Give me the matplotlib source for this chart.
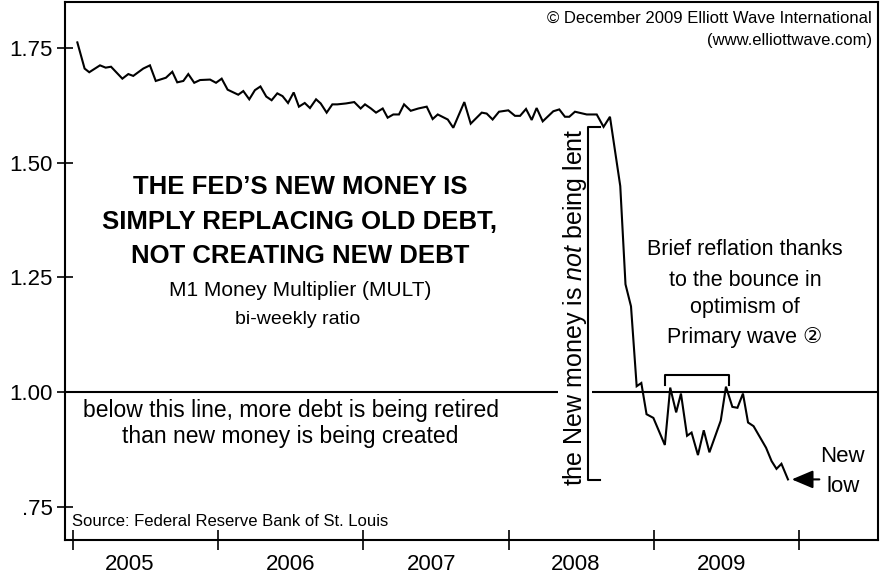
import matplotlib
matplotlib.use("Agg")
import matplotlib.pyplot as plt
import numpy as np

plt.rcParams['font.family'] = ['Liberation Sans', 'DejaVu Sans', 'Noto Sans CJK JP']
plt.rcParams['mathtext.fontset'] = 'custom'
plt.rcParams['mathtext.rm'] = 'Liberation Sans'
plt.rcParams['mathtext.it'] = 'Liberation Sans:italic'

# ---- data (decimal year, M1 money multiplier) ----
dates = [2005.03, 2005.08, 2005.112, 2005.186, 2005.225, 2005.262, 2005.340, 2005.381,
         2005.415, 2005.484, 2005.530, 2005.570, 2005.640, 2005.684, 2005.718, 2005.760,
         2005.794, 2005.835, 2005.875, 2005.944, 2005.985, 2006.024, 2006.065, 2006.138,
         2006.173, 2006.214, 2006.253, 2006.291, 2006.331, 2006.368, 2006.407, 2006.443,
         2006.481, 2006.520, 2006.556, 2006.596, 2006.632, 2006.674, 2006.706, 2006.747,
         2006.786, 2006.820, 2006.880, 2006.937, 2006.981, 2007.011, 2007.052, 2007.087,
         2007.133, 2007.167, 2007.206, 2007.245, 2007.280, 2007.326, 2007.378, 2007.436,
         2007.477, 2007.512, 2007.581, 2007.619, 2007.695, 2007.739, 2007.815, 2007.849,
         2007.890, 2007.934, 2007.998, 2008.044, 2008.079, 2008.120, 2008.159, 2008.193,
         2008.235, 2008.308, 2008.349, 2008.388, 2008.418, 2008.457, 2008.538, 2008.607,
         2008.654, 2008.698, 2008.769, 2008.805, 2008.843, 2008.882, 2008.914, 2008.950,
         2008.997, 2009.076, 2009.113, 2009.154, 2009.187, 2009.229, 2009.260, 2009.304,
         2009.344, 2009.383, 2009.461, 2009.497, 2009.541, 2009.576, 2009.614, 2009.649,
         2009.687, 2009.773, 2009.811, 2009.845, 2009.879, 2009.924]
mult = [1.762, 1.705, 1.697, 1.712, 1.707, 1.709, 1.683, 1.693,
        1.689, 1.705, 1.712, 1.678, 1.685, 1.698, 1.675, 1.678,
        1.693, 1.674, 1.680, 1.681, 1.674, 1.683, 1.659, 1.648,
        1.656, 1.638, 1.658, 1.666, 1.644, 1.636, 1.651, 1.645,
        1.630, 1.653, 1.622, 1.630, 1.619, 1.638, 1.629, 1.609,
        1.627, 1.627, 1.629, 1.632, 1.618, 1.627, 1.618, 1.609,
        1.618, 1.598, 1.605, 1.605, 1.627, 1.613, 1.618, 1.622,
        1.595, 1.605, 1.594, 1.576, 1.632, 1.585, 1.609, 1.607,
        1.594, 1.611, 1.614, 1.602, 1.602, 1.617, 1.593, 1.619,
        1.590, 1.612, 1.616, 1.600, 1.600, 1.611, 1.605, 1.605,
        1.578, 1.600, 1.449, 1.235, 1.187, 1.013, 1.020, 0.952,
        0.944, 0.885, 1.010, 0.956, 0.997, 0.905, 0.912, 0.863,
        0.917, 0.869, 0.938, 1.012, 0.968, 0.966, 0.997, 0.934,
        0.926, 0.879, 0.850, 0.833, 0.844, 0.810]

year_ticks = [2005, 2006, 2007, 2008, 2009, 2010]
year_labels = ['2005', '2006', '2007', '2008', '2009']
year_label_pos = [2005.39, 2006.50, 2007.47, 2008.46, 2009.47]
yticks = [0.75, 1.00, 1.25, 1.50, 1.75]
ytick_labels = ['.75', '1.00', '1.25', '1.50', '1.75']

W, H = 882, 575
fig = plt.figure(figsize=(W / 100, H / 100), dpi=100)
ax = fig.add_axes([65 / W, 1 - 540 / H, (878 - 65) / W, (540 - 2) / H])

def px(x, y):
    return (x / W, 1 - y / H)

ax.plot(dates, mult, color='black', lw=1.5, zorder=4, solid_joinstyle='miter')
ax.axhline(1.0, color='black', lw=1.5, zorder=1)

ax.set_xlim(2004.945, 2010.544)
ax.set_ylim(0.678, 1.850)

ax.set_xticks(year_ticks)
ax.set_xticklabels([])
ax.set_xticks(year_label_pos, minor=True)
ax.set_xticklabels(year_labels, minor=True, fontsize=16)
ax.tick_params(axis='x', which='major', direction='inout', length=14, width=1.2)
ax.tick_params(axis='x', which='minor', length=0, pad=10)

ax.set_yticks(yticks)
ax.set_yticklabels(ytick_labels, fontsize=16)
ax.tick_params(axis='y', direction='inout', length=12, width=1.2, pad=3)

for s in ax.spines.values():
    s.set_linewidth(1.5)

# Texts
tfs = 18.5
fig.text(*px(300, 187), "THE FED\u2019S NEW MONEY IS", ha='center', va='center',
         fontsize=tfs, fontweight='bold')
fig.text(*px(300, 222), "SIMPLY REPLACING OLD DEBT,", ha='center', va='center',
         fontsize=tfs, fontweight='bold')
fig.text(*px(300, 256), "NOT CREATING NEW DEBT", ha='center', va='center',
         fontsize=tfs, fontweight='bold')
fig.text(*px(300, 290), "M1 Money Multiplier (MULT)", ha='center', va='center', fontsize=15)
fig.text(*px(298, 320), "bi-weekly ratio", ha='center', va='center', fontsize=14)
fig.text(*px(291, 411), "below this line, more debt is being retired", ha='center',
         va='center', fontsize=16.5)
fig.text(*px(290, 437), "than new money is being created", ha='center',
         va='center', fontsize=16.5)

fig.text(*px(575, 307), r"the New money is $\it{not}$ being lent", rotation=90,
         ha='center', va='center', fontsize=18, zorder=3,
         bbox=dict(facecolor='white', edgecolor='none', pad=2))

# bracket next to vertical text
fig.add_artist(plt.Line2D([600 / W, 588 / W, 588 / W, 600 / W],
                          [1 - 127 / H, 1 - 127 / H, 1 - 480 / H, 1 - 480 / H],
                          color='black', lw=1.5, zorder=5))

for t, yy in [("Brief reflation thanks", 250), ("to the bounce in", 280),
              ("optimism of", 308), ("Primary wave \u2461", 338)]:
    fig.text(*px(745, yy), t, ha='center', va='center', fontsize=15.5)

# bracket over reflation
fig.add_artist(plt.Line2D([665 / W, 665 / W, 729 / W, 729 / W],
                          [1 - 385 / H, 1 - 375 / H, 1 - 375 / H, 1 - 385 / H],
                          color='black', lw=1.5, zorder=5))

fig.text(*px(842, 457), "New", ha='center', va='center', fontsize=16)
fig.text(*px(843, 487), "low", ha='center', va='center', fontsize=16)
ax.annotate("", xy=(2009.95, 0.810), xytext=(2010.14, 0.810),
            arrowprops=dict(arrowstyle='-|>,head_length=1.3,head_width=0.55',
                            color='black', lw=1.5, shrinkA=0, shrinkB=0))

fig.text(*px(872, 18), "\u00a9 December 2009 Elliott Wave International", ha='right',
         va='center', fontsize=12)
fig.text(*px(872, 40), "(www.elliottwave.com)", ha='right', va='center', fontsize=12)
fig.text(*px(72, 522), "Source: Federal Reserve Bank of St. Louis", ha='left',
         va='center', fontsize=12)

fig.savefig("out.png", dpi=100)
